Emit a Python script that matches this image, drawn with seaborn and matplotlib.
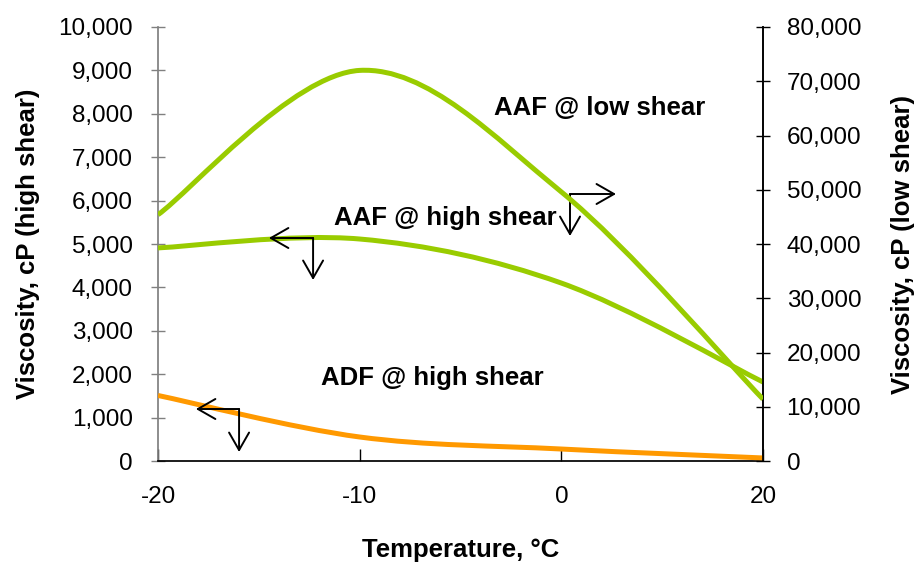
import numpy as np
import matplotlib
matplotlib.use("Agg")
import matplotlib.pyplot as plt
from matplotlib.path import Path
from matplotlib.patches import PathPatch
from matplotlib.ticker import FuncFormatter, MultipleLocator
import seaborn as sns

# data (category x axis: -20, -10, 0, 20)
temps = ["-20", "-10", "0", "20"]
aaf_low_shear = [45400, 72000, 49600, 11400]   # right axis
aaf_high_shear = [4910, 5115, 4100, 1820]      # left axis
adf_high_shear = [1510, 553, 276, 70]          # left axis

GREEN = "#99CC00"
ORANGE = "#FF9900"

sns.set_theme(style="white")
plt.rcParams["font.family"] = ["Liberation Sans", "DejaVu Sans"]
plt.rcParams["text.color"] = "black"
plt.rcParams["axes.labelcolor"] = "black"
plt.rcParams["xtick.color"] = "black"
plt.rcParams["ytick.color"] = "black"

TICK_FS = 17.5
LABEL_FS = 18.5


def smooth_path(ys, k=1 / 6):
    """Excel-style smoothed line (Bezier through the points)."""
    xs = np.arange(len(ys), dtype=float)
    ys = np.asarray(ys, dtype=float)
    n = len(xs)
    verts = [(xs[0], ys[0])]
    codes = [Path.MOVETO]
    for i in range(n - 1):
        i0, i3 = max(i - 1, 0), min(i + 2, n - 1)
        c1 = (xs[i] + (xs[i + 1] - xs[i0]) * k, ys[i] + (ys[i + 1] - ys[i0]) * k)
        c2 = (xs[i + 1] - (xs[i3] - xs[i]) * k, ys[i + 1] - (ys[i3] - ys[i]) * k)
        verts += [c1, c2, (xs[i + 1], ys[i + 1])]
        codes += [Path.CURVE4] * 3
    return Path(verts, codes)


def add_curve(ax, ys, color):
    patch = PathPatch(smooth_path(ys), facecolor="none", edgecolor=color,
                      lw=3.6, capstyle="butt", zorder=3)
    ax.add_patch(patch)


fig = plt.figure(figsize=(9.16, 5.62), dpi=100)
ax = fig.add_axes([158 / 916, 1 - 461 / 562, 605 / 916, 434 / 562])
ax2 = ax.twinx()

add_curve(ax, aaf_high_shear, GREEN)
add_curve(ax, adf_high_shear, ORANGE)
add_curve(ax2, aaf_low_shear, GREEN)

ax.set_xlim(0, len(temps) - 1)
ax.set_xticks(range(len(temps)))
ax.set_xticklabels(temps)
ax.set_ylim(0, 10000)
ax.yaxis.set_major_locator(MultipleLocator(1000))
ax2.set_ylim(0, 80000)
ax2.yaxis.set_major_locator(MultipleLocator(10000))
fmt = FuncFormatter(lambda v, p: f"{v:,.0f}")
ax.yaxis.set_major_formatter(fmt)
ax2.yaxis.set_major_formatter(fmt)

for a in (ax, ax2):
    a.spines["top"].set_visible(False)
    a.set_facecolor("none")
ax.spines["left"].set_color("#808080")
ax.spines["bottom"].set_color("black")
ax2.spines["right"].set_color("black")
ax2.spines["left"].set_visible(False)
ax2.spines["bottom"].set_visible(False)

ax.tick_params(axis="y", direction="inout", length=10, width=1, color="#808080",
               labelsize=TICK_FS, pad=13, left=True)
ax.tick_params(axis="x", direction="in", length=9, width=1, color="black",
               labelsize=TICK_FS, pad=18, bottom=True)
ax2.tick_params(axis="y", direction="inout", length=10, width=1, color="black",
                labelsize=TICK_FS, pad=12, right=True)

ax.set_xlabel("Temperature, °C", fontsize=LABEL_FS, fontweight="bold")
ax.xaxis.set_label_coords(0.5, -0.205)
ax.xaxis.label.set_va("center")
ax.set_ylabel("Viscosity, cP (high shear)", fontsize=LABEL_FS, fontweight="bold")
ax.yaxis.set_label_coords(-0.215, 0.5)
ax.yaxis.label.set_va("center")
ax2.set_ylabel("Viscosity, cP (low shear)", fontsize=LABEL_FS, fontweight="bold")
ax2.yaxis.set_label_coords(1.231, 0.5)
ax2.yaxis.label.set_va("center")

# series labels
ax.text(2.19, 8134, "AAF @ low shear", ha="center", va="center",
        fontsize=LABEL_FS, fontweight="bold", zorder=5)
ax.text(1.423, 5599, "AAF @ high shear", ha="center", va="center",
        fontsize=LABEL_FS, fontweight="bold", zorder=5)
ax.text(1.359, 1912, "ADF @ high shear", ha="center", va="center",
        fontsize=LABEL_FS, fontweight="bold", zorder=5)

# axis pointer arrows (corner, horizontal end, vertical end)
arrow_kw = dict(arrowstyle="->,head_length=0.7,head_width=0.4",
                color="black", lw=1.4, shrinkA=0, shrinkB=0, mutation_scale=18)
pointers = [
    ((0.769, 5138), (0.550, 5138), (0.769, 4171)),
    ((2.043, 6152), (2.271, 6152), (2.043, 5184)),
    ((0.402, 1198), (0.188, 1198), (0.402, 207)),
]
for corner, h_end, v_end in pointers:
    ax.annotate("", xy=h_end, xytext=corner, arrowprops=arrow_kw, zorder=6)
    ax.annotate("", xy=v_end, xytext=corner, arrowprops=arrow_kw, zorder=6)

fig.savefig("out.png", dpi=100)
